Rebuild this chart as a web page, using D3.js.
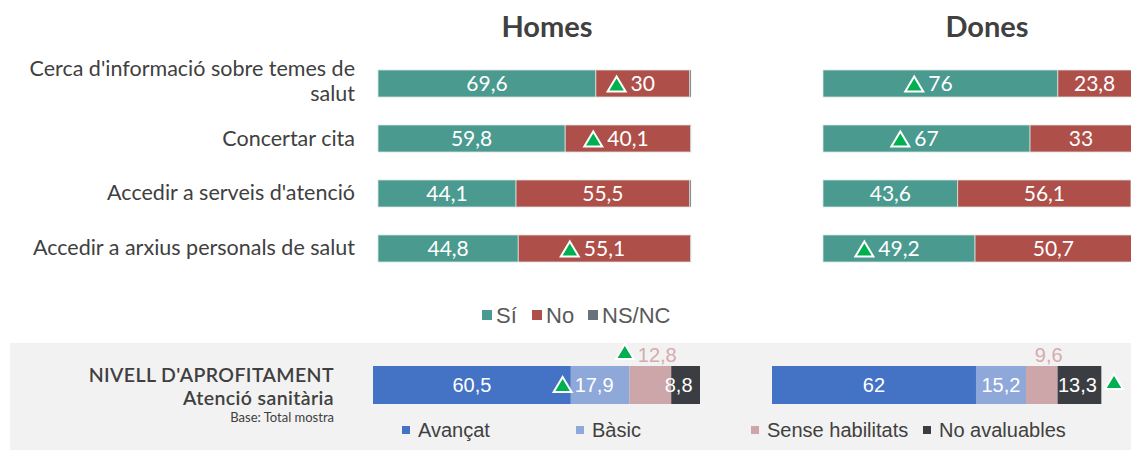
<!DOCTYPE html>
<html>
<head>
<meta charset="utf-8">
<script src="https://cdn.jsdelivr.net/npm/d3@7"></script>
<style>
  body { margin: 0; background: #fff; }
  svg { display: block; }
</style>
</head>
<body>
<svg width="1131" height="450"></svg>
<script>
const svg = d3.select('svg');

// data
var categories = ["Cerca d'informació sobre temes de salut", "Concertar cita",
                  "Accedir a serveis d'atenció", "Accedir a arxius personals de salut"];
var labelLines = [["Cerca d'informació sobre temes de", "salut"], ["Concertar cita"],
                  ["Accedir a serveis d'atenció"], ["Accedir a arxius personals de salut"]];
var series = ["Sí", "No", "NS/NC"];
var homesSi = [69.6, 59.8, 44.1, 44.8];
var homesNo = [30, 40.1, 55.5, 55.1];
var homesNs = [0.4, 0.1, 0.4, 0.1];
var donesSi = [76, 67, 43.6, 49.2];
var donesNo = [23.8, 33, 56.1, 50.7];
var donesNs = [0.2, 0, 0.3, 0.1];
// significant increases (triangle marks) [Sí, No]
var homesUp = [[0, 1], [0, 1], [0, 0], [0, 1]];
var donesUp = [[1, 0], [1, 0], [0, 0], [1, 0]];

var levels = ["Avançat", "Bàsic", "Sense habilitats", "No avaluables"];
var homesLevel = [60.5, 17.9, 12.8, 8.8];
var donesLevel = [62, 15.2, 9.6, 13.3];

var colors = {"Sí": "#4a9a8f", "No": "#ae4f4a", "NS/NC": "#6b737a"};
var levelColors = ["#4472c4", "#8fa8da", "#cda6a9", "#3a3d41"];
var fmt = function(v){ return String(v).replace(".", ","); };

var fontMain = "Lato, 'Open Sans', sans-serif";
var fontArial = "'Liberation Sans', Arial, sans-serif";

// triangle marker
function tri(g, cx, cy) {
  g.append("path")
    .attr("d", "M" + cx + "," + (cy - 8) + " L" + (cx + 9) + "," + (cy + 7) + " L" + (cx - 9) + "," + (cy + 7) + " Z")
    .attr("fill", "#00b050").attr("stroke", "#fff").attr("stroke-width", 2)
    .attr("stroke-linejoin", "miter");
}

var y = d3.scaleBand().domain(categories).range([70, 262]).paddingInner(0.509);

// titles
svg.append("text").attr("x", 547).attr("y", 37).attr("text-anchor", "middle")
  .style("font-family", fontMain).style("font-size", "29px").style("font-weight", "bold")
  .attr("fill", "#404040").text("Homes");
svg.append("text").attr("x", 987).attr("y", 37).attr("text-anchor", "middle")
  .style("font-family", fontMain).style("font-size", "29px").style("font-weight", "bold")
  .attr("fill", "#404040").text("Dones");

// category labels
labelLines.forEach(function(lines, i) {
  var cy = y(categories[i]) + y.bandwidth() / 2;
  var t = svg.append("text").attr("text-anchor", "end")
    .style("font-family", fontMain).style("font-size", "21.5px").attr("fill", "#404040");
  lines.forEach(function(l, j) {
    t.append("tspan").attr("x", 355)
      .attr("y", cy + 7 + (j - (lines.length - 1) / 2) * 25 - (lines.length > 1 ? 2 : 0))
      .text(l);
  });
});

function drawPanel(x0, x1, si, no, ns, up) {
  var x = d3.scaleLinear().domain([0, 100]).range([x0, x1]);
  var g = svg.append("g");
  categories.forEach(function(c, i) {
    var vals = [si[i], no[i], ns[i]];
    var start = 0;
    vals.forEach(function(v, k) {
      var a = start, b = start + v;
      start = b;
      if (v <= 0) return;
      g.append("rect").attr("x", x(a)).attr("y", y(c))
        .attr("width", x(b) - x(a)).attr("height", y.bandwidth())
        .attr("fill", colors[series[k]])
        .attr("stroke", "#d9e4e2").attr("stroke-width", k == 2 ? 0.5 : 0.8);
      if (k < 2) {
        var cx = (x(a) + x(b)) / 2, cy = y(c) + y.bandwidth() / 2;
        var t = g.append("text").attr("x", cx).attr("y", cy + 7.5).attr("text-anchor", "middle")
          .style("font-family", fontMain).style("font-size", "21px").attr("fill", "#fff")
          .text(fmt(v));
        if (up[i][k]) {
          var w = t.node().getComputedTextLength();
          tri(g, cx - w / 2 - 14, cy + 1);
        }
      }
    });
  });
}
drawPanel(378, 691, homesSi, homesNo, homesNs, homesUp);
drawPanel(823, 1132, donesSi, donesNo, donesNs, donesUp);

// legend Sí / No / NS/NC
var leg = svg.append("g");
var legX = [482, 532, 588];
series.forEach(function(s, i) {
  leg.append("rect").attr("x", legX[i]).attr("y", 310).attr("width", 10).attr("height", 10)
    .attr("fill", colors[s]);
  leg.append("text").attr("x", legX[i] + 14).attr("y", 323)
    .style("font-family", fontArial).style("font-size", "22px").attr("fill", "#595959").text(s);
});

// bottom panel
svg.append("rect").attr("x", 10).attr("y", 343).attr("width", 1121).attr("height", 107).attr("fill", "#f2f2f2");
svg.append("text").attr("x", 334).attr("y", 382).attr("text-anchor", "end")
  .style("font-family", fontMain).style("font-size", "19.5px").style("font-weight", "600")
  .style("letter-spacing", "0.4px")
  .attr("fill", "#404040").text("NIVELL D'APROFITAMENT");
svg.append("text").attr("x", 334).attr("y", 405).attr("text-anchor", "end")
  .style("font-family", fontMain).style("font-size", "19.5px").style("font-weight", "600")
  .style("letter-spacing", "0.4px")
  .attr("fill", "#404040").text("Atenció sanitària");
svg.append("text").attr("x", 334).attr("y", 422).attr("text-anchor", "end")
  .style("font-family", fontMain).style("font-size", "13px")
  .attr("fill", "#404040").text("Base: Total mostra");

var by0 = 366, bh = 38;
function drawLevel(x0, x1, vals, opts) {
  var x = d3.scaleLinear().domain([0, 100]).range([x0, x1]);
  var g = svg.append("g");
  var start = 0;
  vals.forEach(function(v, k) {
    var a = start, b = start + v;
    start = b;
    g.append("rect").attr("x", x(a)).attr("y", by0).attr("width", x(b) - x(a)).attr("height", bh)
      .attr("fill", levelColors[k]);
    var cx = (x(a) + x(b)) / 2;
    if (k == 2) {
      var ox = cx + (opts.outShift || 0);
      var t = g.append("text").attr("x", ox).attr("y", 362).attr("text-anchor", "middle")
        .style("font-family", fontArial).style("font-size", "20px").attr("fill", "#d5abae").text(fmt(v));
      if (opts.upOut) {
        var w = t.node().getComputedTextLength();
        tri(g, ox - w / 2 - 13, 352);
      }
    } else {
      var tx = cx + ((opts.shift || {})[k] || 0);
      var t2 = g.append("text").attr("x", tx).attr("y", by0 + bh / 2 + 7).attr("text-anchor", "middle")
        .style("font-family", fontArial).style("font-size", "20px").attr("fill", "#fff").text(fmt(v));
      if (opts.upIn === k) {
        var w2 = t2.node().getComputedTextLength();
        tri(g, tx - w2 / 2 - 12, by0 + bh / 2);
      }
    }
  });
  if (opts.upEnd) tri(g, x1 + 13, 382);
}
drawLevel(373, 700, homesLevel, {upIn: 1, upOut: true, outShift: 7, shift: {1: -6, 3: -7}});
drawLevel(772, 1101, donesLevel, {upEnd: true, outShift: 7, shift: {3: -2}});

// bottom legend
var legX2 = [418, 592, 767, 939];
levels.forEach(function(l, i) {
  svg.append("rect").attr("x", legX2[i] - 16).attr("y", 426).attr("width", 8).attr("height", 8)
    .attr("fill", levelColors[i]);
  svg.append("text").attr("x", legX2[i]).attr("y", 437)
    .style("font-family", fontArial).style("font-size", "20px").attr("fill", "#404040").text(l);
});
</script>
</body>
</html>
